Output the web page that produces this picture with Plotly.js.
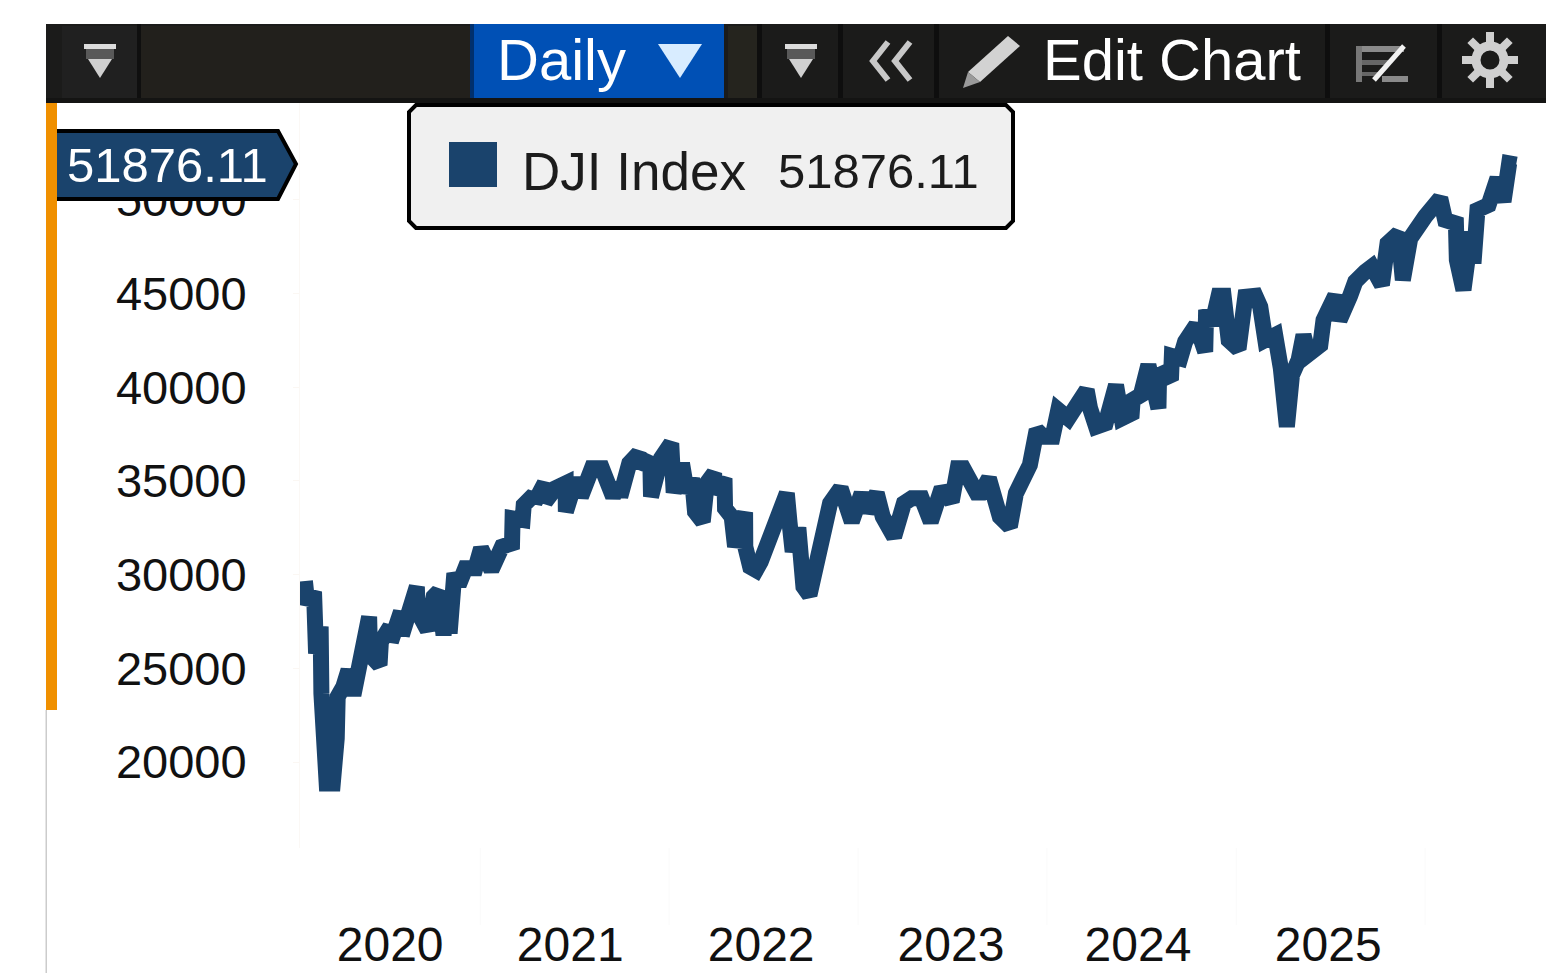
<!DOCTYPE html>
<html><head><meta charset="utf-8">
<script src="https://cdn.plot.ly/plotly-3.0.1.min.js"></script>
<style>html,body{margin:0;padding:0;background:#fff}#c{width:1562px;height:973px}</style>
</head><body><div id="c"></div>
<script>
// ---- data ----
const seriesName = "DJI Index";
const lastValueLabel = "51876.11";
const years = [
2020.074,2020.087,2020.122,2020.133,2020.157,2020.161,2020.189,2020.221,2020.242,2020.247,2020.277,2020.304,2020.330,2020.357,2020.387,2020.413,2020.418,2020.468,2020.475,2020.524,2020.528,2020.581,2020.586,2020.635,2020.665,2020.669,2020.722,2020.754,2020.780,2020.806,2020.833,2020.838,2020.863,2020.886,2020.921,2020.974,
2021.004,2021.059,2021.115,2021.168,2021.171,2021.224,2021.230,2021.283,2021.288,2021.341,2021.344,2021.397,2021.452,2021.453,2021.508,2021.533,2021.591,2021.644,2021.671,2021.703,2021.733,2021.741,2021.789,2021.838,2021.847,2021.900,2021.904,2021.957,
2022.011,2022.024,2022.068,2022.094,2022.121,2022.126,2022.137,2022.178,2022.199,2022.238,2022.243,2022.293,2022.296,2022.331,2022.349,2022.402,2022.403,2022.429,2022.460,2022.485,2022.513,2022.543,2022.573,2022.601,2022.623,2022.637,2022.654,2022.684,2022.711,2022.743,2022.769,2022.795,2022.825,2022.852,2022.908,2022.940,2022.967,
2023.019,2023.046,2023.099,2023.131,2023.191,2023.243,2023.284,2023.337,2023.385,2023.443,2023.496,2023.528,2023.557,2023.602,2023.639,2023.693,2023.751,2023.804,2023.836,2023.875,2023.910,2023.946,2023.981,
2024.030,2024.060,2024.113,2024.166,2024.210,2024.228,2024.260,2024.310,2024.337,2024.365,2024.395,2024.448,2024.453,2024.496,2024.536,2024.563,2024.589,2024.593,2024.655,2024.660,2024.704,2024.730,2024.788,2024.836,2024.841,2024.871,2024.907,2024.933,2024.960,
2025.012,2025.048,2025.101,2025.127,2025.154,2025.206,2025.236,2025.268,2025.295,2025.330,2025.356,2025.383,2025.445,2025.462,2025.524,2025.547,2025.603,2025.630,2025.683,2025.718,2025.771,2025.801,2025.859,2025.882,2025.921,2025.965,
2026.000,2026.080,2026.106,2026.163,2026.168,2026.203,2026.244,2026.256,2026.277,2026.336,2026.383,2026.415,2026.445,2026.482];
const closes = [
29656,28411,29087,25796,27219,23661,18858,18858,21260,23483,24017,24906,23572,24906,25885,27753,25707,25173,26419,27219,26419,28020,26774,28820,29354,28020,27041,28820,29087,26774,29087,26863,30066,29443,30332,30332,
31400,30243,31489,31667,33001,32912,33713,34246,33855,34869,33890,34602,34869,33357,35136,34157,35669,35669,34869,34157,34869,34157,35936,36470,35758,36203,34157,36203,
37004,34371,35936,34371,35136,33357,33356,32823,34868,35402,34335,35135,33534,33089,31488,33321,31488,30421,30243,30688,31488,32289,33054,34335,34335,32823,31221,32502,29354,28909,30332,31755,33000,33801,34602,33534,32823,
34335,33356,34335,33089,32022,33801,34068,34068,32823,34602,33890,35669,35669,34602,34157,35135,33089,32556,34335,35135,35847,37715,37359,
37359,38782,38338,39049,39850,38871,37893,38068,39581,40114,38335,38602,39314,39581,41181,39581,38869,40915,40381,41662,41537,42427,43316,41893,44117,43316,44882,44882,42516,
42035,44828,44882,44295,42516,42783,41004,37890,40648,41448,42783,41768,42249,43583,44882,43583,44882,45629,46163,46430,45451,47675,48208,45718,47942,48742,
49098,50076,48920,48742,46785,45184,48297,46607,49454,49721,51144,49899,51944,51876.11];
const yTicks = [20000,25000,30000,35000,40000,45000,50000];
const xTickYears = [2020.524,2021.476,2022.487,2023.492,2024.481,2025.487];
const xTickLabels = ["2020","2021","2022","2023","2024","2025"];
const yearStarts = [2021,2022,2023,2024,2025,2026];
const toolbarLabels = {period:"Daily", edit:"Edit Chart"};

// ---- helpers ----
function toDate(d){
  const y=Math.floor(d), a=Date.UTC(y,0,1), b=Date.UTC(y+1,0,1);
  return new Date(a+(d-y)*(b-a)).toISOString().slice(0,19).replace('T',' ');
}
const W=1562,H=973, NAVY='#1a436c', FONT='"Liberation Sans", Arial, sans-serif';
const X=p=>p/W, Y=p=>1-p/H;
function rect(x0,y0,x1,y1,fill,extra){return Object.assign({type:'rect',xref:'paper',yref:'paper',x0:X(x0),x1:X(x1),y0:Y(y0),y1:Y(y1),fillcolor:fill,line:{width:0},layer:'above'},extra||{});}
function poly(pts,fill,line,close){
  let d=pts.map((p,i)=>(i?'L':'M')+X(p[0]).toFixed(5)+','+Y(p[1]).toFixed(5)).join(' ')+(close===false?'':' Z');
  return {type:'path',xref:'paper',yref:'paper',path:d,fillcolor:fill||'rgba(0,0,0,0)',line:line||{width:0},layer:'above'};
}
function filterIcon(x){return [
  rect(x,44,x+32,49,'#dcdcdc'),
  rect(x+2,49,x+30,59,'#595959'),
  poly([[x+4,59],[x+28,59],[x+16,78]],'#d0d0d0')
];}
function label(px,py,text,color,anchor,size){return {xref:'paper',yref:'paper',x:X(px),y:Y(py),text:text,showarrow:false,xanchor:anchor||'left',yanchor:'middle',font:{family:FONT,size:size||48,color:color}};}

// ---- chrome ----
const shapes=[];
yearStarts.forEach(y=>shapes.push({type:'line',xref:'x',yref:'paper',x0:toDate(y),x1:toDate(y),y0:Y(848),y1:Y(925),line:{color:'#fafafa',width:1},layer:'below'}));
shapes.push(rect(46,24,1546,103,'#1b1b1a'));
shapes.push(rect(140,26,470,98,'#22201c'));
shapes.push(rect(62,26,137,98,'#202020'));
shapes.push(rect(137,24,141,103,'#0f0f0f'));
shapes.push(rect(470,24,474,98,'#00306e'));
shapes.push(rect(474,24,724,98,'#0050b5'));
shapes.push(rect(728,26,757,98,'#25241e'));
[757,838,934,1325,1437].forEach(x=>shapes.push(rect(x,24,x+5,103,'#0e0e0e')));
shapes.push(rect(46,98,1546,103,'#141413'));
shapes.push(...filterIcon(84));
shapes.push(...filterIcon(785));
shapes.push(poly([[658,44],[702,44],[680,78]],'#d8ecff'));
shapes.push(poly([[888,42],[873,61],[888,80]],null,{color:'#c8c8c8',width:6},false));
shapes.push(poly([[910,42],[895,61],[910,80]],null,{color:'#c8c8c8',width:6},false));
shapes.push(poly([[1008,36],[1020,46],[980,82],[968,72]],'#d2d2d2'));
shapes.push(poly([[968,72],[980,82],[963,88]],'#9a9a9a'));
shapes.push(rect(1356,46,1404,52,'#8a8a8a'));
shapes.push(rect(1356,46,1362,82,'#777777'));
shapes.push(rect(1362,60,1388,65,'#666666'));
shapes.push(rect(1362,72,1380,76,'#666666'));
shapes.push(rect(1382,76,1408,82,'#8a8a8a'));
shapes.push(poly([[1374,80],[1404,46]],null,{color:'#f2f2f2',width:5},false));
// gear
shapes.push({type:'circle',xref:'paper',yref:'paper',x0:X(1476),x1:X(1504),y0:Y(46),y1:Y(74),fillcolor:'rgba(0,0,0,0)',line:{color:'#cfcfcf',width:9},layer:'above'});
for(let i=0;i<8;i++){const a=i*Math.PI/4;shapes.push(poly([[1490+16*Math.cos(a),60+16*Math.sin(a)],[1490+28*Math.cos(a),60+28*Math.sin(a)]],null,{color:'#cfcfcf',width:8},false));}
// left strip
shapes.push(rect(46,103,57,710,'#f09000'));
shapes.push(rect(45.5,710,47,973,'#cccccc'));
// last value tag
shapes.push(poly([[55,131],[278,131],[296,164],[278,199],[55,199]],NAVY,{color:'#000000',width:4}));
shapes.push(rect(46,103,57,205,'#f09000'));
// legend box
shapes.push({type:'path',xref:'paper',yref:'paper',layer:'above',fillcolor:'#f0f0f0',line:{color:'#000000',width:4},
  path:['M',X(416),Y(105),'L',X(1006),Y(105),'L',X(1013),Y(112),'L',X(1013),Y(221),'L',X(1006),Y(228),'L',X(416),Y(228),'L',X(409),Y(221),'L',X(409),Y(112),'Z'].join(' ')});
shapes.push(rect(449,142,497,187,NAVY));

const annotations=[
  label(495,59,toolbarLabels.period,'#ffffff','left',58),
  label(1041,59,toolbarLabels.edit,'#ffffff','left',58),
  label(65,165,lastValueLabel,'#ffffff','left',49),
  label(520,171,seriesName,'#1c1c1c','left',53),
  label(776,171,lastValueLabel,'#1c1c1c','left',49)
];

const trace={type:'scatter',mode:'lines',x:years.map(toDate),y:closes,name:seriesName,
  line:{color:NAVY,width:16,shape:'linear'},hoverinfo:'skip'};

const layout={
  width:W,height:H,margin:{l:0,r:0,t:0,b:0,pad:0},paper_bgcolor:'#ffffff',plot_bgcolor:'#ffffff',showlegend:false,
  xaxis:{type:'date',domain:[300/W,1546/W],range:[toDate(2020.048),toDate(2026.640)],tickmode:'array',
    tickvals:xTickYears.map(toDate),ticktext:xTickLabels,ticks:'',ticklabelstandoff:64,showgrid:false,zeroline:false,showline:false,
    tickfont:{family:FONT,size:48,color:'#111111'},tickangle:0,automargin:false,fixedrange:true},
  yaxis:{domain:[1-848/H,1-103/H],range:[15411,55164],tickmode:'array',tickvals:yTicks,ticktext:yTicks.map(String),
    ticks:'outside',ticklen:6,tickcolor:'#fbf7f3',ticklabelstandoff:37,showgrid:false,zeroline:false,showline:true,linecolor:'#fbf8f5',linewidth:1,
    tickfont:{family:FONT,size:47,color:'#111111'},automargin:false,fixedrange:true},
  shapes:shapes,annotations:annotations
};
Plotly.newPlot('c',[trace],layout,{displayModeBar:false,staticPlot:true,responsive:false});
</script></body></html>
